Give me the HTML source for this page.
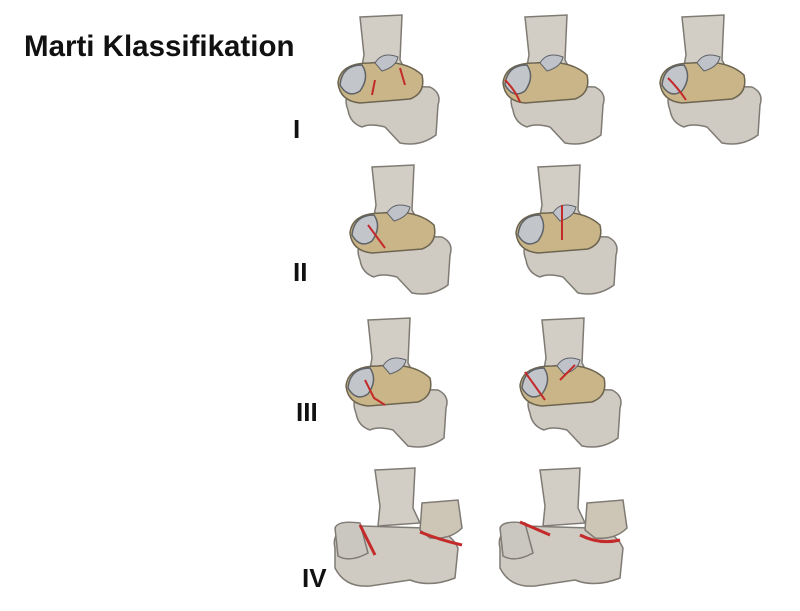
<!DOCTYPE html>
<html><head><meta charset="utf-8"><style>
html,body{margin:0;padding:0;background:#fff;}
body{width:800px;height:611px;position:relative;overflow:hidden;font-family:"Liberation Sans",Arial,sans-serif;}
.t{position:absolute;font-weight:bold;color:#111;}
svg{position:absolute;left:0;top:0;}
</style></head><body>
<div class="t" style="left:24px;top:30px;font-size:29.5px;">Marti Klassifikation</div>
<div class="t" style="left:293px;top:114px;font-size:26px;">I</div>
<div class="t" style="left:293px;top:257px;font-size:26px;">II</div>
<div class="t" style="left:296px;top:397px;font-size:26px;">III</div>
<div class="t" style="left:302px;top:563px;font-size:26px;">IV</div>
<svg width="800" height="611" viewBox="0 0 800 611">
<defs>
<symbol id="b" viewBox="0 0 120 135" overflow="visible">
 <path d="M30 2 L72 0 L70 45 L78 60 L30 62 L34 40 Z" fill="#d2cec6" stroke="#7f7b74" stroke-width="1.5"/>
 <path d="M18 95 Q10 75 35 70 L100 72 Q112 78 108 90 L106 120 Q90 132 70 128 L55 112 Q40 108 32 112 Q20 108 18 95Z" fill="#cfcac2" stroke="#7f7b74" stroke-width="1.5"/>
 <path d="M8 68 Q10 48 40 48 Q75 44 92 60 Q96 78 80 84 L30 88 Q10 86 8 68Z" fill="#c9b587" stroke="#6d6550" stroke-width="1.5"/>
 <path d="M10 70 Q12 50 32 50 Q40 62 30 76 Q18 84 10 70Z" fill="#c2c5ca" stroke="#5f6368" stroke-width="1.5"/>
 <path d="M45 48 Q52 36 68 42 Q66 52 52 56Z" fill="#bfc2c8" stroke="#5f6368"/>
</symbol>
<symbol id="b4" viewBox="0 0 135 130" overflow="visible">
 <path d="M45 2 L85 0 L83 40 L90 55 L48 58 L50 38 Z" fill="#d2cec6" stroke="#7f7b74" stroke-width="1.5"/>
 <path d="M5 80 Q0 60 30 58 L95 60 Q120 62 128 80 L125 110 Q100 120 80 112 L40 118 Q15 120 5 100Z" fill="#cfcac2" stroke="#7f7b74" stroke-width="1.5"/>
 <path d="M92 35 L128 32 L132 60 Q120 72 100 70 L90 62Z" fill="#cdc6b6" stroke="#7f7b74" stroke-width="1.5"/>
 <path d="M5 60 Q8 52 30 55 L38 85 Q20 95 8 88Z" fill="#cac7c0" stroke="#7f7b74" stroke-width="1.5"/>
</symbol>
</defs>
<g>
<use href="#b" x="330" y="15" width="120" height="135"/>
<path d="M372 95 L375 80 M400 68 L405 85" stroke="#c42a2a" stroke-width="2" fill="none"/>
<use href="#b" x="495" y="15" width="120" height="135"/>
<path d="M505 80 Q515 90 520 102" stroke="#c42a2a" stroke-width="2" fill="none"/>
<use href="#b" x="652" y="15" width="120" height="135"/>
<path d="M668 78 Q678 88 686 100" stroke="#c42a2a" stroke-width="2" fill="none"/>
<use href="#b" x="342" y="165" width="120" height="135"/>
<path d="M368 225 L385 248" stroke="#c42a2a" stroke-width="2" fill="none"/>
<use href="#b" x="508" y="165" width="120" height="135"/>
<path d="M562 205 L562 240" stroke="#c42a2a" stroke-width="2" fill="none"/>
<use href="#b" x="338" y="318" width="120" height="135"/>
<path d="M365 380 L374 398 L385 405" stroke="#c42a2a" stroke-width="2" fill="none"/>
<use href="#b" x="512" y="318" width="120" height="135"/>
<path d="M525 372 L545 400 M560 380 L575 365" stroke="#c42a2a" stroke-width="2" fill="none"/>
<use href="#b4" x="330" y="468" width="135" height="130"/>
<path d="M360 525 L375 555 M420 532 Q440 540 462 545" stroke="#c42a2a" stroke-width="3" fill="none"/>
<use href="#b4" x="495" y="468" width="135" height="130"/>
<path d="M520 522 L550 535 M580 535 Q600 545 620 540" stroke="#c42a2a" stroke-width="3" fill="none"/>
</g>
</svg>
</body></html>
